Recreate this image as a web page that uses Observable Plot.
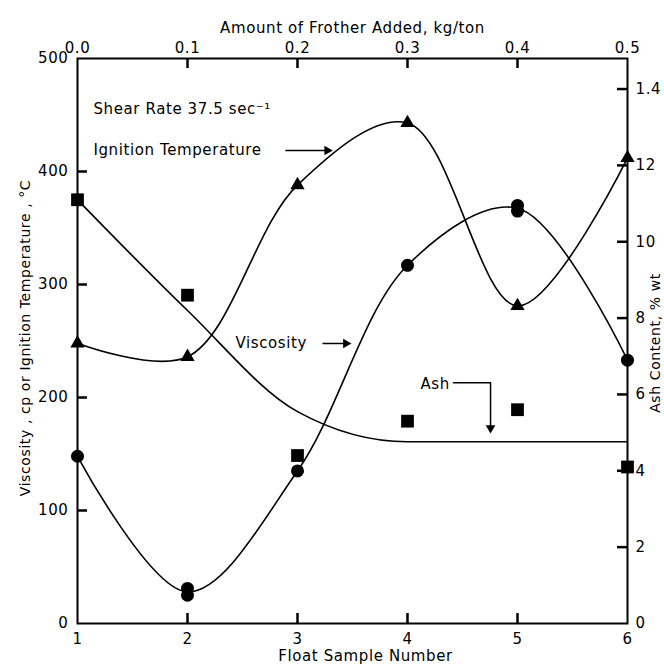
<!DOCTYPE html>
<html><head><meta charset="utf-8">
<script src="https://cdn.jsdelivr.net/npm/d3@7"></script>
<script src="https://cdn.jsdelivr.net/npm/@observablehq/plot@0.6"></script>
<style>
body{margin:0;background:#fff}
svg text{letter-spacing:0.6px}
</style></head><body><div id="chart"></div>
<script>
// Data
const samples = [1, 2, 3, 4, 5, 6];
const frotherLabels = ["0.0", "0.1", "0.2", "0.3", "0.4", "0.5"];
const ignition = [248, 236, 388, 443, 281, 412];
const viscSample = [1, 2, 2, 3, 4, 5, 5, 6];
const viscosity = [148, 31, 25, 135, 317, 370, 365, 233];
const ash = [11.1, 8.6, 4.4, 5.3, 5.6, 4.1];
const ashFit = [11.1, 8.2, 5.55, 4.76, 4.76, 4.76];
const leftTicks = [0, 100, 200, 300, 400, 500];
const rightTicks = [0, 2, 4, 6, 8, 10, 12, 14];
const rightTickLabels = ["0", "2", "4", "6", "8", "10", "12", "1.4"];
const ashMax = 14.8;

const labels = [
  {x: 1.145, y: 455, text: "Shear Rate 37.5 sec\u207B\u00B9"},
  {x: 1.145, y: 418.6, text: "Ignition Temperature"},
  {x: 2.436, y: 247.8, text: "Viscosity"},
  {x: 4.118, y: 212, text: "Ash"}
];
const arrows = [
  {x1: 2.89, y1: 418.6, x2: 3.27, y2: 418.6, angle: 90},
  {x1: 3.227, y1: 247.8, x2: 3.44, y2: 247.8, angle: 90}
];
const ashPointer = [{x: 4.418, y: 213}, {x: 4.755, y: 213}, {x: 4.755, y: 174}];
const ashHead = [{x: 4.755, y: 173, angle: 180}];

const k = 500 / ashMax;
const toLeft = a => a * k;

const ignData = samples.map((s, i) => ({s, v: ignition[i]}));
const viscData = viscSample.map((s, i) => ({s, v: viscosity[i]}));
const viscMean = Array.from(d3.rollup(viscData, g => d3.mean(g, d => d.v), d => d.s), ([s, v]) => ({s, v})).sort((a, b) => a.s - b.s);
const ashData = samples.map((s, i) => ({s, v: toLeft(ash[i])}));
const ashFitData = samples.map((s, i) => ({s, v: toLeft(ashFit[i])}));
const rightMap = new Map(rightTicks.map((t, i) => [toLeft(t), rightTickLabels[i]]));
const topMap = new Map(samples.map((s, i) => [s, frotherLabels[i]]));

const W = 664, H = 669, mL = 77, mR = 37, mT = 58, mB = 46, tickLen = 10;
const frameW = W - mL - mR, frameH = H - mT - mB;
const xDom = [1, 6], yDom = [0, 500];
const ux = (xDom[1] - xDom[0]) / frameW;  // x units per pixel
const uy = (yDom[1] - yDom[0]) / frameH;  // y units per pixel
const innerL = leftTicks.filter(d => d > 0 && d < 500);
const innerR = rightTicks.filter(d => d > 0).map(toLeft);
const innerX = samples.slice(1, -1);

const hTicks = [
  ...innerL.map(t => ({y: t, a: xDom[0], b: xDom[0] + tickLen * ux})),
  ...innerR.map(t => ({y: t, a: xDom[1] - tickLen * ux, b: xDom[1]}))
];
const vTicks = [
  ...innerX.map(s => ({x: s, a: yDom[0], b: yDom[0] + tickLen * uy})),
  ...innerX.map(s => ({x: s, a: yDom[1] - tickLen * uy, b: yDom[1]}))
];

const chart = Plot.plot({
  width: W, height: H,
  marginLeft: mL, marginRight: mR, marginTop: mT, marginBottom: mB,
  style: {fontFamily: "DejaVu Sans", fontSize: "15px", background: "white", color: "black"},
  x: {domain: xDom},
  y: {domain: yDom},
  marks: [
    Plot.frame({stroke: "black", strokeWidth: 2, fill: "none"}),
    // tick labels
    Plot.axisY(leftTicks, {anchor: "left", tickSize: 0, tickPadding: 9, label: null}),
    Plot.axisY(rightTicks.map(toLeft), {anchor: "right", tickSize: 0, tickPadding: 8, tickFormat: d => rightMap.get(d), label: null}),
    Plot.axisX(samples, {anchor: "bottom", tickSize: 0, tickPadding: 10, tickFormat: d => String(d), label: null}),
    Plot.axisX(samples, {anchor: "top", tickSize: 0, tickPadding: 6, tickFormat: d => topMap.get(d), label: null}),
    // axis titles
    Plot.text(["Viscosity , cp or Ignition Temperature , \u00B0C"], {frameAnchor: "left", textAnchor: "middle", dx: -52, dy: -3, rotate: -90, fontSize: 14, text: d => d}),
    Plot.text(["Ash Content, % wt"], {frameAnchor: "right", textAnchor: "middle", dx: 28, dy: 2, rotate: -90, fontSize: 14, text: d => d}),
    Plot.text(["Amount of Frother Added, kg/ton"], {frameAnchor: "top", dy: -36, text: d => d}),
    Plot.text(["Float Sample Number"], {frameAnchor: "bottom", dy: 37, dx: 13, text: d => d}),
    // curves
    Plot.line(ignData, {x: "s", y: "v", curve: "catmull-rom", stroke: "black", strokeWidth: 1.6}),
    Plot.line(viscMean, {x: "s", y: "v", curve: "catmull-rom", stroke: "black", strokeWidth: 1.6}),
    Plot.line(ashFitData, {x: "s", y: "v", curve: "monotone-x", stroke: "black", strokeWidth: 1.6}),
    // markers
    Plot.dot(ignData, {x: "s", y: "v", symbol: "triangle", r: 5.3, fill: "black"}),
    Plot.dot(viscData, {x: "s", y: "v", symbol: "circle", r: 6.5, fill: "black"}),
    Plot.dot(ashData, {x: "s", y: "v", symbol: "square", r: 7.2, fill: "black"}),
    // annotations
    Plot.text(labels, {x: "x", y: "y", text: "text", textAnchor: "start"}),
    Plot.link(arrows, {x1: "x1", y1: "y1", x2: "x2", y2: "y2", stroke: "black", strokeWidth: 1.5}),
    Plot.dot(arrows, {x: "x2", y: "y2", symbol: "triangle", rotate: "angle", r: 3.6, fill: "black"}),
    Plot.line(ashPointer, {x: "x", y: "y", stroke: "black", strokeWidth: 1.5}),
    Plot.dot(ashHead, {x: "x", y: "y", symbol: "triangle", rotate: "angle", r: 3.6, fill: "black"}),
    // inward ticks (drawn last)
    Plot.ruleY(hTicks, {y: "y", x1: "a", x2: "b", stroke: "black", strokeWidth: 2.5}),
    Plot.ruleX(vTicks, {x: "x", y1: "a", y2: "b", stroke: "black", strokeWidth: 2.5})
  ]
});
document.getElementById("chart").appendChild(chart);
</script></body></html>
